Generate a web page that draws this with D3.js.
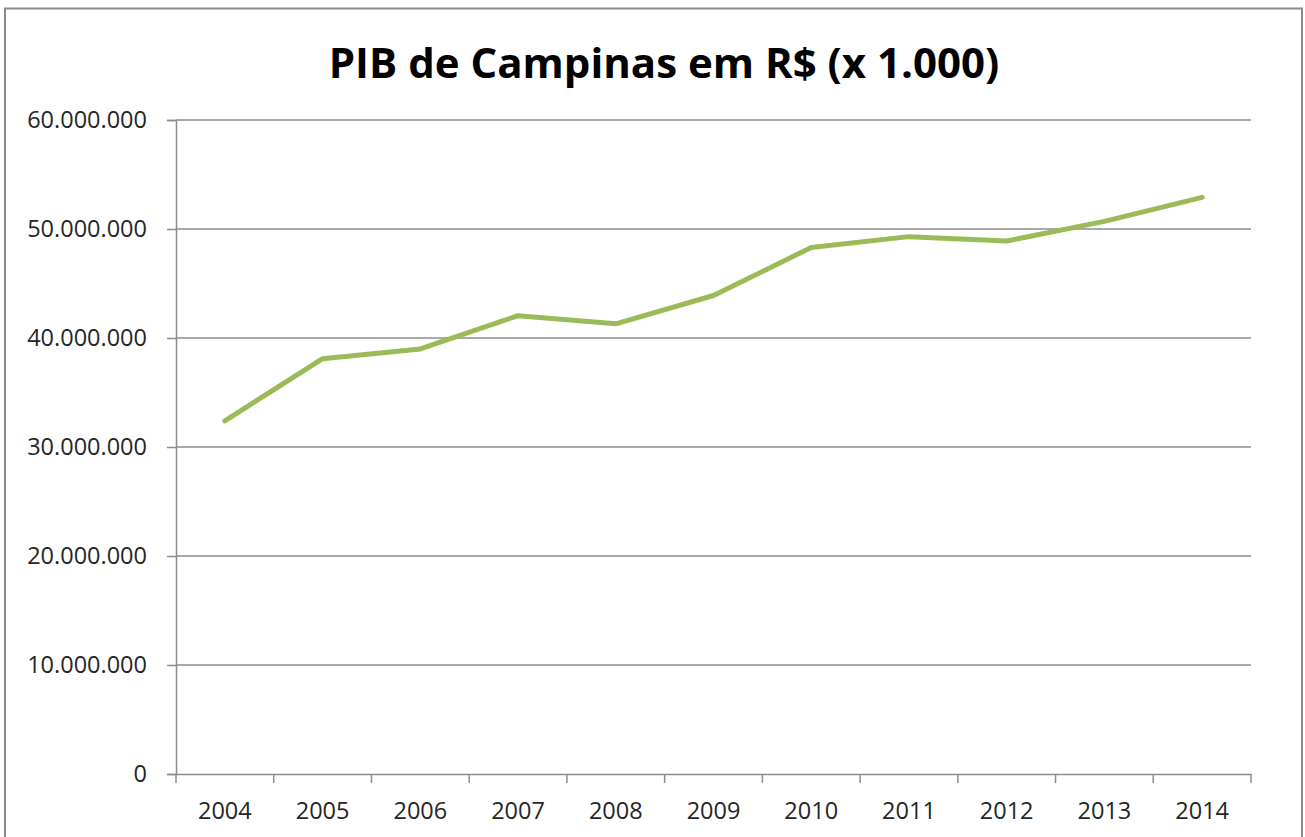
<!DOCTYPE html>
<html>
<head>
<meta charset="utf-8">
<script src="https://cdn.jsdelivr.net/npm/d3@7"></script>
<style>
  body { margin: 0; background: #fff; }
  svg text { font-family: "Open Sans", "Liberation Sans", sans-serif; fill: #262626; }
</style>
</head>
<body>
<div id="chart"></div>
<script>
const years = ['2004', '2005', '2006', '2007', '2008', '2009', '2010', '2011', '2012', '2013', '2014'];
const pib = [32400000, 38100000, 39000000, 42050000, 41300000, 43900000, 48300000, 49300000, 48900000, 50700000, 52900000];
const yTicks = [0, 10000000, 20000000, 30000000, 40000000, 50000000, 60000000];
const title = 'PIB de Campinas em R$ (x 1.000)';

const width = 1305, height = 837;
const margin = { left: 176, right: 54, top: 120, bottom: 63 };

const svg = d3.select('#chart').append('svg')
  .attr('width', width)
  .attr('height', height);

// chart frame
svg.append('rect')
  .attr('x', 5).attr('y', 8.5)
  .attr('width', width - 8).attr('height', height + 10)
  .attr('fill', '#fff')
  .attr('stroke', '#8c8c8c')
  .attr('stroke-width', 2);

const xScale = d3.scaleBand()
  .domain(years)
  .range([margin.left, width - margin.right]);

const yScale = d3.scaleLinear()
  .domain([0, 60000000])
  .range([height - margin.bottom, margin.top]);

const fmt = d3.formatLocale({ decimal: ',', thousands: '.', grouping: [3], currency: ['R$', ''] }).format(',d');

// y axis
const yAxis = d3.axisLeft(yScale)
  .tickValues(yTicks)
  .tickFormat(fmt)
  .tickSize(9)
  .tickPadding(20);

const yg = svg.append('g')
  .attr('class', 'axis axis-y')
  .attr('transform', `translate(${margin.left},0)`)
  .call(yAxis);
yg.select('.domain').attr('stroke', '#8c8c8c').attr('stroke-width', 1.5);
yg.selectAll('.tick line').attr('stroke', '#8c8c8c').attr('stroke-width', 1.5);
yg.selectAll('.tick text').style('font-size', '23.5px').attr('fill', '#262626');

// gridlines
svg.append('g')
  .attr('class', 'grid')
  .selectAll('line')
  .data(yTicks.filter(d => d > 0))
  .enter()
  .append('line')
  .attr('x1', margin.left)
  .attr('x2', width - margin.right)
  .attr('y1', d => yScale(d))
  .attr('y2', d => yScale(d))
  .attr('stroke', '#8c8c8c')
  .attr('stroke-width', 1.5);

// x axis
const xAxis = d3.axisBottom(xScale)
  .tickSize(0)
  .tickPadding(28);

const xg = svg.append('g')
  .attr('class', 'axis axis-x')
  .attr('transform', `translate(0,${height - margin.bottom})`)
  .call(xAxis);
xg.select('.domain').attr('stroke', '#8c8c8c').attr('stroke-width', 1.5);
xg.selectAll('.tick text').style('font-size', '23.5px').attr('fill', '#262626');

const bounds = years.map(y => xScale(y)).concat([xScale(years[years.length - 1]) + xScale.bandwidth()]);
xg.selectAll('.xtick')
  .data(bounds)
  .enter()
  .append('line')
  .attr('x1', d => d).attr('x2', d => d)
  .attr('y1', 0).attr('y2', 9)
  .attr('stroke', '#8c8c8c')
  .attr('stroke-width', 1.5);

// series
const line = d3.line()
  .x((d, i) => xScale(years[i]) + xScale.bandwidth() / 2)
  .y(d => yScale(d));

svg.append('path')
  .datum(pib)
  .attr('d', line)
  .attr('fill', 'none')
  .attr('stroke', '#9bbb59')
  .attr('stroke-width', 5)
  .attr('stroke-linejoin', 'round')
  .attr('stroke-linecap', 'round');

// title
svg.append('text')
  .attr('x', 664)
  .attr('y', 78)
  .attr('text-anchor', 'middle')
  .style('font-size', '42px')
  .style('font-weight', 'bold')
  .style('fill', '#000')
  .text(title);
</script>
</body>
</html>
